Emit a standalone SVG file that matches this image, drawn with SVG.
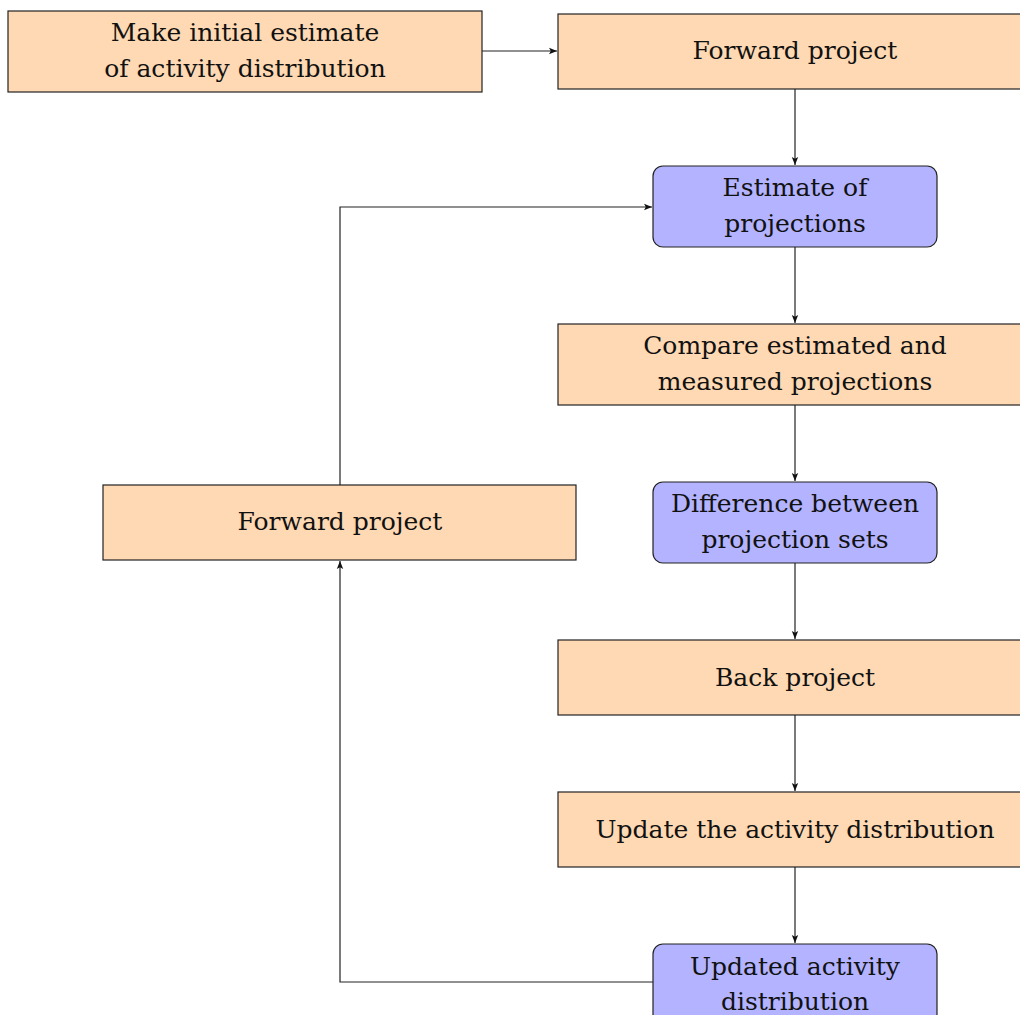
<svg xmlns="http://www.w3.org/2000/svg" width="1020" height="1015" viewBox="0 0 1020 1015">
<style>
.o{fill:#ffd9b3;stroke:#222;stroke-width:1.2}
.b{fill:#b3b3ff;stroke:#222;stroke-width:1.2}
text{font-family:"DejaVu Serif","Liberation Serif",serif;font-size:25px;fill:#111;text-anchor:middle}
.c{fill:none;stroke:#222;stroke-width:1.2}
</style>
<defs>
<marker id="ah" markerWidth="10" markerHeight="8" refX="8" refY="4" orient="auto" markerUnits="userSpaceOnUse">
<path d="M0,0.8 L8,4 L0,7.2 L1.8,4 Z" fill="#111"/>
</marker>
</defs>
<g id="connectors">
<line class="c" x1="482" y1="51" x2="557" y2="51" marker-end="url(#ah)"/>
<line class="c" x1="795" y1="89" x2="795" y2="165" marker-end="url(#ah)"/>
<line class="c" x1="795" y1="247" x2="795" y2="323" marker-end="url(#ah)"/>
<line class="c" x1="795" y1="405" x2="795" y2="481" marker-end="url(#ah)"/>
<line class="c" x1="795" y1="563" x2="795" y2="639" marker-end="url(#ah)"/>
<line class="c" x1="795" y1="715" x2="795" y2="791" marker-end="url(#ah)"/>
<line class="c" x1="795" y1="867" x2="795" y2="943" marker-end="url(#ah)"/>
<polyline class="c" points="653,982 340,982 340,561" marker-end="url(#ah)"/>
<polyline class="c" points="340,485 340,207 652,207" marker-end="url(#ah)"/>
</g>
<g id="n1"><rect class="o" x="8" y="11" width="474" height="81"/><text x="245" y="41">Make initial estimate</text><text x="245" y="77">of activity distribution</text></g>
<g id="n2"><rect class="o" x="558" y="14" width="480" height="75"/><text x="795" y="59">Forward project</text></g>
<g id="n3"><rect class="b" x="653" y="166" width="284" height="81" rx="10"/><text x="795" y="196">Estimate of</text><text x="795" y="232">projections</text></g>
<g id="n4"><rect class="o" x="558" y="324" width="480" height="81"/><text x="795" y="354">Compare estimated and</text><text x="795" y="390">measured projections</text></g>
<g id="n5"><rect class="b" x="653" y="482" width="284" height="81" rx="10"/><text x="795" y="512">Difference between</text><text x="795" y="548">projection sets</text></g>
<g id="n6"><rect class="o" x="558" y="640" width="480" height="75"/><text x="795" y="686">Back project</text></g>
<g id="n7"><rect class="o" x="558" y="792" width="480" height="75"/><text x="795" y="838">Update the activity distribution</text></g>
<g id="n8"><rect class="b" x="653" y="944" width="284" height="90" rx="10"/><text x="795" y="975">Updated activity</text><text x="795" y="1010">distribution</text></g>
<g id="n9"><rect class="o" x="103" y="485" width="473" height="75"/><text x="340" y="530">Forward project</text></g>
</svg>
